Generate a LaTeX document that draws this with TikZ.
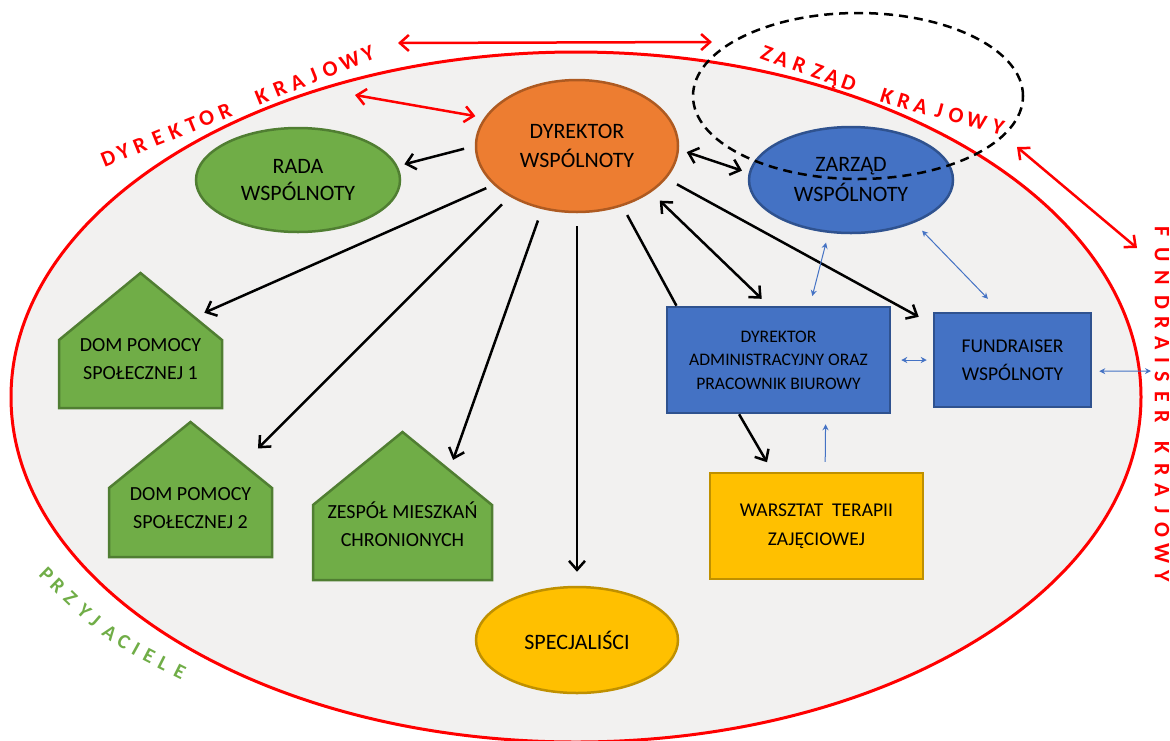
\documentclass[tikz,border=0pt]{standalone}
\usepackage{fontspec}
\setmainfont{Carlito}
\usetikzlibrary{shapes.geometric, arrows.meta, decorations.markings, calc}

\definecolor{bgfill}{HTML}{F2F1F0}
\definecolor{redc}{HTML}{FF0000}
\definecolor{orfill}{HTML}{ED7D31}
\definecolor{ordraw}{HTML}{AE5A21}
\definecolor{grfill}{HTML}{70AD47}
\definecolor{grdraw}{HTML}{507E32}
\definecolor{blfill}{HTML}{4472C4}
\definecolor{bldraw}{HTML}{2F528F}
\definecolor{yefill}{HTML}{FFC000}
\definecolor{yedraw}{HTML}{BF9000}
\definecolor{thinblue}{HTML}{4472C4}
\definecolor{friend}{HTML}{70AD47}

\begin{document}
\begin{tikzpicture}[x=1pt, y=-1pt,
  txt/.style={align=center, text=black, inner sep=0pt},
  ell/.style={ellipse, line width=2.5pt, txt},
  box/.style={rectangle, line width=2.5pt, txt},
  barb/.tip={Straight Barb[length=9pt,width=16pt]},
  conn/.style={line width=2.5pt, black, -barb},
  dconn/.style={line width=2.5pt, black, barb-barb},
  plainconn/.style={line width=2.5pt, black},
  redarr/.style={line width=2.5pt, redc, barb-barb},
  sm/.tip={Stealth[length=6pt,width=6pt]},
  blarr/.style={line width=1pt, thinblue, sm-sm},
  blarrone/.style={line width=1pt, thinblue, -sm},
  house/.style={fill=grfill, draw=grdraw, line width=2.5pt, line join=miter},
  rl/.style={transform shape, inner sep=0pt, text=redc, font=\fontsize{22}{22}\selectfont\bfseries, text height=14.2pt, text depth=0pt},
  gl/.style={transform shape, inner sep=0pt, text=friend, font=\fontsize{20.5}{20.5}\selectfont\bfseries, text height=13.2pt, text depth=0pt},
]

\useasboundingbox (0,0) rectangle (1170,740);

% outer community
\draw[redc, line width=3pt, fill=bgfill] (576,397) ellipse [x radius=565, y radius=345];

% nodes
\node[ell, fill=orfill, draw=ordraw, minimum width=202pt, minimum height=132pt, font=\fontsize{22}{29}\selectfont] (dw) at (577,146) {DYREKTOR\\WSPÓLNOTY};
\node[ell, fill=grfill, draw=grdraw, minimum width=204pt, minimum height=104pt, font=\fontsize{22}{27}\selectfont] (rada) at (298,180) {RADA\\WSPÓLNOTY};
\node[ell, fill=blfill, draw=bldraw, minimum width=204pt, minimum height=106pt, font=\fontsize{22}{30}\selectfont] (zw) at (851,180) {ZARZĄD\\WSPÓLNOTY};
\node[ell, fill=yefill, draw=yedraw, minimum width=202pt, minimum height=106pt, font=\fontsize{22}{29}\selectfont] (spec) at (577,640) {SPECJALIŚCI};
\node[box, fill=blfill, draw=bldraw, minimum width=223pt, minimum height=106pt, font=\fontsize{17.6}{23.5}\selectfont] (dadm) at (778.5,360) {DYREKTOR\\ADMINISTRACYJNY ORAZ\\PRACOWNIK BIUROWY};
\node[box, fill=blfill, draw=bldraw, minimum width=157pt, minimum height=94pt, font=\fontsize{19.5}{28}\selectfont] (fund) at (1012.5,360) {FUNDRAISER\\WSPÓLNOTY};
\node[box, fill=yefill, draw=yedraw, minimum width=213pt, minimum height=106pt, font=\fontsize{19.5}{29}\selectfont] (wars) at (816.5,526) {WARSZTAT\ \ TERAPII\\ZAJĘCIOWEJ};

% houses
\coordinate (h1a) at (140.5,273); \coordinate (h1r) at (222,340);
\draw[house] (59,408) -- (59,340) -- (h1a) -- (h1r) -- (222,408) -- cycle;
\node[txt, font=\fontsize{20}{28}\selectfont] (dom1) at (140.5,359) {DOM POMOCY\\SPOŁECZNEJ 1};

\coordinate (h2a) at (190.5,422); \coordinate (h2r) at (272,488);
\draw[house] (109,557) -- (109,488) -- (h2a) -- (h2r) -- (272,557) -- cycle;
\node[txt, font=\fontsize{20}{28}\selectfont] (dom2) at (190.5,508) {DOM POMOCY\\SPOŁECZNEJ 2};

\coordinate (h3a) at (402.5,432); \coordinate (h3r) at (492,505);
\draw[house] (313,580) -- (313,505) -- (h3a) -- (h3r) -- (492,580) -- cycle;
\node[txt, font=\fontsize{20}{28}\selectfont] (zmc) at (402.5,524) {ZESPÓŁ MIESZKAŃ\\CHRONIONYCH};

% dashed national board
\node[ellipse, draw=black, line width=2.5pt, dash pattern=on 9pt off 6pt, minimum width=330pt, minimum height=166pt, inner sep=0pt] (zk) at (858,96) {};

% black connectors
\draw[conn, shorten <=11pt, shorten >=7pt] (dw.180) -- (rada.8);
\draw[conn, shorten <=8pt, shorten >=11pt] (dw.205) -- ($(h1a)!0.66!(h1r)$);
\draw[conn, shorten <=11pt, shorten >=22pt] (dw.217) -- ($(h2a)!0.637!(h2r)$);
\draw[conn, shorten <=12pt, shorten >=11pt] (dw.241) -- ($(h3a)!0.524!(h3r)$);
\draw[conn, shorten <=13pt, shorten >=14pt] (dw.270) -- (spec.90);
\draw[plainconn, shorten <=10pt] (dw.307) -- (dadm.152);
\draw[dconn, shorten <=12pt, shorten >=10pt] (dw.328) -- (dadm.100);
\draw[conn, shorten <=12pt, shorten >=16pt] (dw.340) -- (fund.156);
\draw[dconn, shorten <=8pt, shorten >=7pt] (dw.358) -- (zw.176);
\draw[conn, shorten >=11pt] (dadm.234) -- (wars.129);

% thin blue connectors
\coordinate (fkr) at (1151,371);
\draw[blarr, shorten <=10pt, shorten >=10pt] (zw.247) -- (dadm.60);
\draw[blarr, shorten <=11pt, shorten >=18pt] (zw.326) -- (fund.104);
\draw[blarr, shorten <=10pt, shorten >=6pt] (dadm.east) -- (fund.west);
\draw[blarr, shorten <=7pt] (fund.352) -- (fkr);
\draw[blarrone, shorten <=10pt, shorten >=10pt] (wars.81) -- (dadm.311);

% red connectors
\coordinate (r1a) at (398,43); \coordinate (r1b) at (712,42);
\coordinate (r2a) at (355,95);
\coordinate (r3a) at (1017,147); \coordinate (r3b) at (1137,248);
\draw[redarr] (r1a) -- (r1b);
\draw[redarr, shorten >=9pt] (r2a) -- (dw.163);
\draw[redarr] (r3a) -- (r3b);

% curved labels
\coordinate (dkS) at (108.3,158.3); \coordinate (dkE) at (368.3,53.3);
\path[decorate, decoration={markings,
 mark=at position 0 with {\node[rl] (dk1) {D};},
 mark=at position 0.0588 with {\node[rl] (dk2) {Y};},
 mark=at position 0.1219 with {\node[rl] (dk3) {R};},
 mark=at position 0.1908 with {\node[rl] (dk4) {E};},
 mark=at position 0.2565 with {\node[rl] (dk5) {K};},
 mark=at position 0.3208 with {\node[rl] (dk6) {T};},
 mark=at position 0.3781 with {\node[rl] (dk7) {O};},
 mark=at position 0.4488 with {\node[rl] (dk8) {R};},
 mark=at position 0.5900 with {\node[rl] (dk9) {K};},
 mark=at position 0.6604 with {\node[rl] (dk10) {R};},
 mark=at position 0.7269 with {\node[rl] (dk11) {A};},
 mark=at position 0.7885 with {\node[rl] (dk12) {J};},
 mark=at position 0.8527 with {\node[rl] (dk13) {O};},
 mark=at position 0.9296 with {\node[rl] (dk14) {W};},
 mark=at position 0.999 with {\node[rl] (dk15) {Y};}}] (dkS) -- (dkE);

\coordinate (zkS) at (766.7,53.3); \coordinate (zkC) at (880.7,95.7); \coordinate (zkE) at (998.3,126.7);
\path[decorate, decoration={markings,
 mark=at position 0 with {\node[rl] (zl1) {Z};},
 mark=at position 0.0648 with {\node[rl] (zl2) {A};},
 mark=at position 0.1438 with {\node[rl] (zl3) {R};},
 mark=at position 0.2228 with {\node[rl] (zl4) {Z};},
 mark=at position 0.2876 with {\node[rl] (zl5) {Ą};},
 mark=at position 0.3597 with {\node[rl] (zl6) {D};},
 mark=at position 0.5254 with {\node[rl] (zl7) {K};},
 mark=at position 0.5974 with {\node[rl] (zl8) {R};},
 mark=at position 0.6693 with {\node[rl] (zl9) {A};},
 mark=at position 0.7487 with {\node[rl] (zl10) {J};},
 mark=at position 0.8208 with {\node[rl] (zl11) {O};},
 mark=at position 0.9072 with {\node[rl] (zl12) {W};},
 mark=at position 0.999 with {\node[rl] (zl13) {Y};}}] (zkS) .. controls (zkC) .. (zkE);

\coordinate (fkS) at (1162,232); \coordinate (fkE) at (1162,577);
\path[decorate, decoration={markings,
 mark=at position 0 with {\node[rl] (fl1) {F};},
 mark=at position 0.0667 with {\node[rl] (fl2) {U};},
 mark=at position 0.1333 with {\node[rl] (fl3) {N};},
 mark=at position 0.2029 with {\node[rl] (fl4) {D};},
 mark=at position 0.2638 with {\node[rl] (fl5) {R};},
 mark=at position 0.3217 with {\node[rl] (fl6) {A};},
 mark=at position 0.3710 with {\node[rl] (fl7) {I};},
 mark=at position 0.4203 with {\node[rl] (fl8) {S};},
 mark=at position 0.4783 with {\node[rl] (fl9) {E};},
 mark=at position 0.5362 with {\node[rl] (fl10) {R};},
 mark=at position 0.6261 with {\node[rl] (fl11) {K};},
 mark=at position 0.6899 with {\node[rl] (fl12) {R};},
 mark=at position 0.7478 with {\node[rl] (fl13) {A};},
 mark=at position 0.8058 with {\node[rl] (fl14) {J};},
 mark=at position 0.8638 with {\node[rl] (fl15) {O};},
 mark=at position 0.9304 with {\node[rl] (fl16) {W};},
 mark=at position 0.999 with {\node[rl] (fl17) {Y};}}] (fkS) -- (fkE);

\coordinate (prS) at (46.7,575); \coordinate (prC) at (110,636.7); \coordinate (prE) at (180,671.7);
\path[decorate, decoration={markings,
 mark=at position 0 with {\node[gl] (pl1) {P};},
 mark=at position 0.0925 with {\node[gl] (pl2) {R};},
 mark=at position 0.2001 with {\node[gl] (pl3) {Z};},
 mark=at position 0.3138 with {\node[gl] (pl4) {Y};},
 mark=at position 0.4002 with {\node[gl] (pl5) {J};},
 mark=at position 0.5151 with {\node[gl] (pl6) {A};},
 mark=at position 0.6155 with {\node[gl] (pl7) {C};},
 mark=at position 0.7019 with {\node[gl] (pl8) {I};},
 mark=at position 0.7920 with {\node[gl] (pl9) {E};},
 mark=at position 0.8869 with {\node[gl] (pl10) {L};},
 mark=at position 0.999 with {\node[gl] (pl11) {E};}}] (prS) .. controls (prC) .. (prE);

\end{tikzpicture}
\end{document}
